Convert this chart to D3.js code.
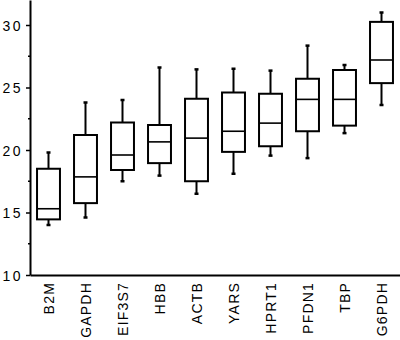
<!DOCTYPE html>
<html>
<head>
<meta charset="utf-8">
<script src="https://cdn.jsdelivr.net/npm/d3@7"></script>
<style>
  body { margin: 0; background: #fff; }
  svg { display: block; }
  .axis text { font-family: "Liberation Sans", Arial, sans-serif; font-size: 14px; fill: #000; }
  .y-axis text { letter-spacing: 2.5px; }
  .x-axis text { letter-spacing: 1.2px; }
</style>
</head>
<body>
<div id="chart"></div>
<script>
const genes = ["B2M", "GAPDH", "EIF3S7", "HBB", "ACTB", "YARS", "HPRT1", "PFDN1", "TBP", "G6PDH"];
const whiskerLow  = [14.0, 14.6, 17.5, 17.95, 16.5, 18.1, 19.55, 19.35, 21.35, 23.6];
const q1          = [14.45, 15.75, 18.4, 18.95, 17.5, 19.85, 20.3, 21.5, 21.95, 25.35];
const median      = [15.3, 17.85, 19.6, 20.65, 20.95, 21.5, 22.15, 24.05, 24.05, 27.2];
const q3          = [18.5, 21.2, 22.2, 22.0, 24.1, 24.6, 24.5, 25.7, 26.4, 30.25];
const whiskerHigh = [19.8, 23.8, 24.0, 26.6, 26.45, 26.5, 26.35, 28.35, 26.8, 31.0];
const majorTicks = [10, 15, 20, 25, 30];
const minorTicks = [12.5, 17.5, 22.5, 27.5];

const width = 400, height = 340;
const margin = { top: 0, right: 0, bottom: 65, left: 30 };

const svg = d3.select("#chart").append("svg")
    .attr("width", width)
    .attr("height", height);

const x = d3.scaleBand()
    .domain(genes)
    .range([margin.left, width - margin.right])
    .paddingInner(0.38)
    .paddingOuter(0.19);

const y = d3.scaleLinear()
    .domain([10, 32])
    .range([height - margin.bottom, margin.top]);

const rows = genes.map((g, i) => ({
    gene: g, lo: whiskerLow[i], q1: q1[i], med: median[i], q3: q3[i], hi: whiskerHigh[i]
}));

// boxes
const g = svg.append("g").attr("class", "boxes");
const box = g.selectAll(".box").data(rows).enter().append("g").attr("class", "box");
const cx = d => x(d.gene) + x.bandwidth() / 2;

box.append("line")
    .attr("x1", cx).attr("x2", cx)
    .attr("y1", d => y(d.q3)).attr("y2", d => y(d.hi))
    .attr("stroke", "#000").attr("stroke-width", 2);
box.append("line")
    .attr("x1", cx).attr("x2", cx)
    .attr("y1", d => y(d.q1)).attr("y2", d => y(d.lo))
    .attr("stroke", "#000").attr("stroke-width", 2);
// whisker caps
box.append("line")
    .attr("x1", d => cx(d) - 2).attr("x2", d => cx(d) + 2)
    .attr("y1", d => y(d.hi)).attr("y2", d => y(d.hi))
    .attr("stroke", "#000").attr("stroke-width", 2.5);
box.append("line")
    .attr("x1", d => cx(d) - 2).attr("x2", d => cx(d) + 2)
    .attr("y1", d => y(d.lo)).attr("y2", d => y(d.lo))
    .attr("stroke", "#000").attr("stroke-width", 2.5);
box.append("rect")
    .attr("x", d => x(d.gene))
    .attr("width", x.bandwidth())
    .attr("y", d => y(d.q3))
    .attr("height", d => y(d.q1) - y(d.q3))
    .attr("fill", "#fff")
    .attr("stroke", "#000").attr("stroke-width", 2);
box.append("line")
    .attr("x1", d => x(d.gene)).attr("x2", d => x(d.gene) + x.bandwidth())
    .attr("y1", d => y(d.med)).attr("y2", d => y(d.med))
    .attr("stroke", "#000").attr("stroke-width", 1.6);

// y axis
const yAxis = svg.append("g")
    .attr("class", "axis y-axis")
    .attr("transform", `translate(${margin.left},0)`)
    .call(d3.axisLeft(y).tickValues(majorTicks).tickSize(4).tickPadding(3).tickSizeOuter(0));
yAxis.select(".domain").attr("stroke-width", 2);
yAxis.selectAll(".tick line").attr("stroke-width", 1.5);
yAxis.selectAll(".tick text").attr("dy", "0.36em");

svg.append("g")
    .attr("class", "y-minor")
    .selectAll("line").data(minorTicks).enter().append("line")
    .attr("x1", margin.left - 2).attr("x2", margin.left)
    .attr("y1", d => y(d)).attr("y2", d => y(d))
    .attr("stroke", "#000").attr("stroke-width", 1.5);

// x axis
const xAxis = svg.append("g")
    .attr("class", "axis x-axis")
    .attr("transform", `translate(0,${y(10)})`)
    .call(d3.axisBottom(x).tickSize(0).tickPadding(0).tickSizeOuter(0));
xAxis.select(".domain").attr("stroke-width", 2);
xAxis.selectAll(".tick text")
    .attr("transform", "rotate(-90)")
    .attr("text-anchor", "end")
    .attr("x", -7)
    .attr("y", 0)
    .attr("dy", "0.36em");
</script>
</body>
</html>
